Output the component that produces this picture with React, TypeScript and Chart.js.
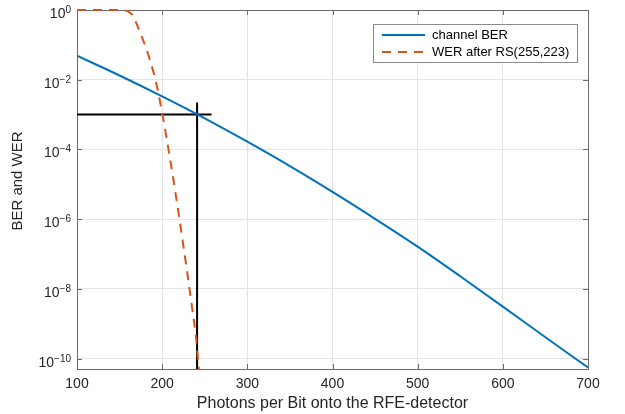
import React, { useEffect, useRef } from "react";
import { Chart, registerables } from "chart.js";

Chart.register(...registerables);

// ---- data ----
const photonsBER = [100, 150, 200, 250, 300, 350, 400, 450, 500, 550, 600, 650, 700];
const channelBER = [0.049, 0.0132, 0.00331, 7.76e-4, 1.66e-4, 3.31e-5, 6.03e-6, 1.02e-6, 1.62e-7, 2.29e-8, 3.09e-9, 4.07e-10, 5.5e-11];

const photonsWER = [100, 150, 155, 160, 165, 170, 175, 180, 185, 190, 195, 200, 205, 210, 215, 220, 225, 230, 235, 240, 243];
const werRS = [1, 1, 0.977, 0.912, 0.724, 0.398, 0.2, 0.0955, 0.0417, 0.0158, 0.00479, 0.00112, 2.24e-4, 4.17e-5, 7.08e-6, 1.12e-6, 1.66e-7, 2.34e-8, 3.02e-9, 3.55e-10, 5.0e-11];

const markerBER = 1e-3;
const markerPhotons = 241;
const hLineStart = 100;
const hLineEnd = 258;
const vLineTop = 2.2e-3;
const vLineBottom = 5e-11;

const xTicks = [100, 200, 300, 400, 500, 600, 700];
const yTickExponents = [0, -2, -4, -6, -8, -10];
const seriesLabels = ["channel BER", "WER after RS(255,223)"];
const xTitle = "Photons per Bit onto the RFE-detector";
const yTitle = "BER and WER";

const BLUE = "#0072BD";
const ORANGE = "#D95319";
const AXIS = "#6b6b6b";
const TEXT = "#262626";
const FONT = "'Liberation Sans', Arial, Helvetica, sans-serif";
const DASH = [9, 7];

const overlay = {
  id: "matlabOverlay",
  beforeDraw(chart: any) {
    const ctx = chart.ctx;
    ctx.save();
    ctx.fillStyle = "#ffffff";
    ctx.fillRect(0, 0, chart.width, chart.height);
    ctx.restore();
  },
  beforeDatasetsDraw(chart: any) {
    const ctx = chart.ctx as CanvasRenderingContext2D;
    const { left, right, top, bottom } = chart.chartArea;
    const xs = chart.scales.x;
    const ys = chart.scales.y;
    ctx.save();
    ctx.strokeStyle = AXIS;
    ctx.lineWidth = 1;
    ctx.strokeRect(Math.round(left) + 0.5, Math.round(top) + 0.5, Math.round(right - left), Math.round(bottom - top));
    ctx.beginPath();
    for (const v of xTicks) {
      const px = Math.round(xs.getPixelForValue(v)) + 0.5;
      ctx.moveTo(px, bottom);
      ctx.lineTo(px, bottom - 5);
      ctx.moveTo(px, top);
      ctx.lineTo(px, top + 5);
    }
    for (const e of yTickExponents) {
      const py = Math.round(ys.getPixelForValue(Math.pow(10, e))) + 0.5;
      ctx.moveTo(left, py);
      ctx.lineTo(left + 5, py);
      ctx.moveTo(right, py);
      ctx.lineTo(right - 5, py);
    }
    ctx.stroke();
    ctx.restore();
  },
  afterDraw(chart: any) {
    const ctx = chart.ctx as CanvasRenderingContext2D;
    const { left, right, bottom } = chart.chartArea;
    const xs = chart.scales.x;
    const ys = chart.scales.y;
    ctx.save();
    // x tick labels
    ctx.fillStyle = TEXT;
    ctx.font = `14px ${FONT}`;
    ctx.textAlign = "center";
    ctx.textBaseline = "alphabetic";
    for (const v of xTicks) {
      ctx.fillText(String(v), xs.getPixelForValue(v), bottom + 19);
    }
    // y tick labels 10^e
    for (const e of yTickExponents) {
      const py = ys.getPixelForValue(Math.pow(10, e));
      const expText = e < 0 ? "\u2212" + String(-e) : String(e);
      ctx.font = `10px ${FONT}`;
      const ew = ctx.measureText(expText).width;
      ctx.textAlign = "right";
      const rightX = left - 6;
      ctx.fillText(expText, rightX, py + 3);
      ctx.font = `14px ${FONT}`;
      ctx.fillText("10", rightX - ew, py + 8);
    }
    // axis titles
    ctx.font = `16px ${FONT}`;
    ctx.textAlign = "center";
    ctx.textBaseline = "middle";
    ctx.fillText(xTitle, (left + right) / 2, 404);
    ctx.save();
    ctx.font = `15px ${FONT}`;
    ctx.translate(18, 181);
    ctx.rotate(-Math.PI / 2);
    ctx.fillText(yTitle, 0, 0);
    ctx.restore();

    // legend
    const bx = 373.5, by = 24.5, bw = 204, bh = 38;
    ctx.fillStyle = "#ffffff";
    ctx.fillRect(bx, by, bw, bh);
    ctx.strokeStyle = "#8a8a8a";
    ctx.lineWidth = 1;
    ctx.strokeRect(bx, by, bw, bh);
    const rows = [35, 52];
    const colors = [BLUE, ORANGE];
    const dashes: number[][] = [[], DASH];
    rows.forEach((ry, i) => {
      ctx.strokeStyle = colors[i];
      ctx.lineWidth = 2;
      ctx.setLineDash(dashes[i]);
      ctx.beginPath();
      ctx.moveTo(382, ry);
      ctx.lineTo(425, ry);
      ctx.stroke();
      ctx.setLineDash([]);
      ctx.fillStyle = "#000000";
      ctx.font = `13px ${FONT}`;
      ctx.textAlign = "left";
      ctx.textBaseline = "middle";
      ctx.fillText(seriesLabels[i], 432, ry + 0.5);
    });
    ctx.restore();
  },
};

export default function App() {
  const ref = useRef<HTMLCanvasElement | null>(null);
  useEffect(() => {
    document.body.style.margin = "0";
    const canvas = ref.current!;
    const toPts = (xs: number[], ys: number[]) => xs.map((x, i) => ({ x, y: ys[i] }));
    const chart = new Chart(canvas, {
      type: "line",
      data: {
        datasets: [
          {
            label: seriesLabels[0],
            data: toPts(photonsBER, channelBER),
            borderColor: BLUE,
            borderWidth: 2,
            pointRadius: 0,
            cubicInterpolationMode: "monotone",
            fill: false,
          },
          {
            label: seriesLabels[1],
            data: toPts(photonsWER, werRS),
            borderColor: ORANGE,
            borderWidth: 2,
            borderDash: DASH,
            pointRadius: 0,
            cubicInterpolationMode: "monotone",
            fill: false,
            clip: { left: 0, top: 2, right: 0, bottom: 0 },
          },
          {
            label: "marker-h",
            data: [
              { x: hLineStart, y: markerBER },
              { x: hLineEnd, y: markerBER },
            ],
            borderColor: "#000000",
            borderWidth: 2,
            pointRadius: 0,
            fill: false,
          },
          {
            label: "marker-v",
            data: [
              { x: markerPhotons, y: vLineTop },
              { x: markerPhotons, y: vLineBottom },
            ],
            borderColor: "#000000",
            borderWidth: 2,
            pointRadius: 0,
            fill: false,
          },
        ],
      } as any,
      options: {
        animation: false,
        responsive: false,
        devicePixelRatio: 1,
        layout: { padding: { left: 0, top: 10, right: 37, bottom: 0 } },
        plugins: {
          legend: { display: false },
          tooltip: { enabled: false },
        },
        scales: {
          x: {
            type: "linear",
            min: 100,
            max: 700,
            afterBuildTicks: (scale: any) => {
              scale.ticks = xTicks.map((v) => ({ value: v }));
            },
            afterFit: (scale: any) => {
              scale.height = 45;
            },
            ticks: { display: false },
            border: { display: false },
            grid: { color: "#e4e4e4", lineWidth: 1, drawTicks: false },
          },
          y: {
            type: "logarithmic",
            min: 5e-11,
            max: 1,
            afterBuildTicks: (scale: any) => {
              scale.ticks = yTickExponents.map((e) => ({ value: Math.pow(10, e) }));
            },
            afterFit: (scale: any) => {
              scale.width = 77;
            },
            ticks: { display: false },
            border: { display: false },
            grid: { color: "#e4e4e4", lineWidth: 1, drawTicks: false },
          },
        },
      } as any,
      plugins: [overlay],
    });
    return () => chart.destroy();
  }, []);
  return (
    <div style={{ position: "absolute", left: 0, top: 0, width: 625, height: 414 }}>
      <canvas ref={ref} width={625} height={414} style={{ width: 625, height: 414, display: "block" }} />
    </div>
  );
}
